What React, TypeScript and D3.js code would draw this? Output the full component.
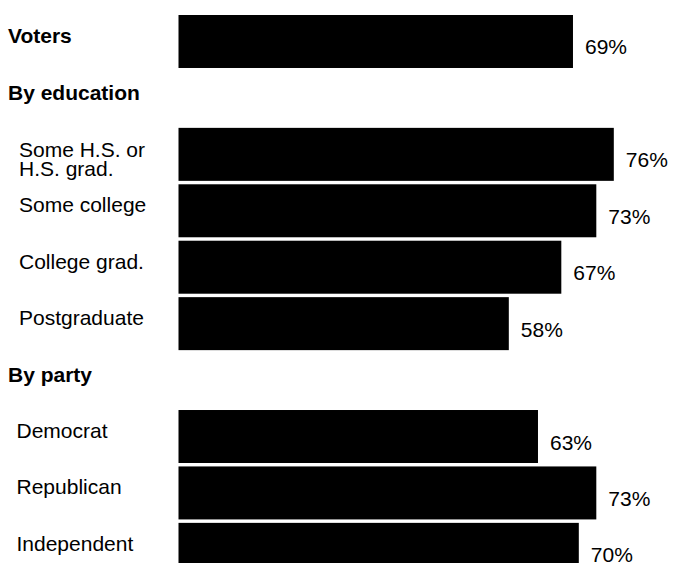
import React from "react";
import * as d3 from "d3";

const rowKeys = ["voters", "hdrEdu", "e1", "e2", "e3", "e4", "hdrParty", "p1", "p2", "p3"];
const rowKinds = ["bar-top", "header", "bar", "bar", "bar", "bar", "header", "bar", "bar", "bar"];
const rowLabels = [
  ["Voters"],
  ["By education"],
  ["Some H.S. or", "H.S. grad."],
  ["Some college"],
  ["College grad."],
  ["Postgraduate"],
  ["By party"],
  ["Democrat"],
  ["Republican"],
  ["Independent"],
];
const rowValues = [69, null, 76, 73, 67, 58, null, 63, 73, 70];
const rowIndent = [8, 8, 19, 19, 19, 19, 8, 16.5, 16.5, 16.5];

const W = 683;
const H = 563;
const FONT = "'Liberation Sans', Arial, Helvetica, sans-serif";

export default function App() {
  const step = 56.43;
  const pad = 0.061;
  const y = d3
    .scaleBand<string>()
    .domain(rowKeys)
    .range([15, 15 + step * (rowKeys.length - pad)])
    .paddingInner(pad)
    .paddingOuter(0);
  const x = d3.scaleLinear().domain([0, 100]).range([170.5, 753.8]);
  const barStart = 178.5;
  const bw = y.bandwidth();

  return (
    <svg
      width={W}
      height={H}
      style={{ position: "absolute", left: 0, top: 0, background: "#fff" }}
      fontFamily={FONT}
    >
      <rect x={0} y={0} width={W} height={H} fill="#fff" />
      {rowKeys.map((k, i) => {
        const y0 = y(k)!;
        const cy = y0 + bw / 2;
        const kind = rowKinds[i];
        const bold = kind !== "bar";
        const lines = rowLabels[i];
        const v = rowValues[i];
        const multi = lines.length > 1;
        const baseY = multi ? cy + 2.5 : cy + (kind === "header" ? 2 : 1.5);
        return (
          <g key={k}>
            <text
              x={rowIndent[i]}
              y={baseY}
              fontSize={21}
              fontWeight={bold ? "bold" : "normal"}
              fill="#000"
            >
              {lines.map((ln, j) => (
                <tspan key={j} x={rowIndent[i]} dy={j === 0 ? 0 : 19}>
                  {ln}
                </tspan>
              ))}
            </text>
            {v !== null && (
              <>
                <rect x={barStart} y={y0} width={x(v) - barStart} height={bw} fill="#000" />
                <text x={x(v) + 12} y={cy + 13} fontSize={21} fill="#000">
                  {v}%
                </text>
              </>
            )}
          </g>
        );
      })}
    </svg>
  );
}
